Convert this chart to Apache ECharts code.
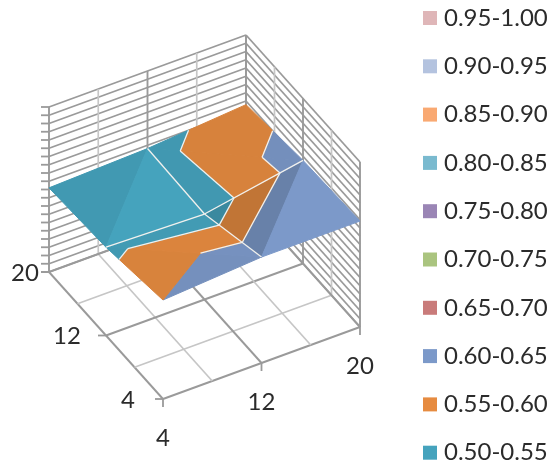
<!DOCTYPE html>
<html>
<head>
<meta charset="utf-8">
<style>html,body{margin:0;padding:0;background:#fff}#chart{width:556px;height:468px}</style>
<script src="https://cdn.jsdelivr.net/npm/echarts@6/dist/echarts.min.js"></script>
</head>
<body>
<div id="chart"></div>
<script>
// Surface samples: rows follow the depth axis, columns the width axis.
const widthTicks = [4, 12, 20];
const depthTicks = [4, 12, 20];
const surfaceRows = [
  [0.600, 0.642, 0.642],
  [0.535, 0.518, 0.625],
  [0.510, 0.530, 0.578]
];
const bandNames = ['0.95-1.00','0.90-0.95','0.85-0.90','0.80-0.85','0.75-0.80','0.70-0.75','0.65-0.70','0.60-0.65','0.55-0.60','0.50-0.55'];
const bandFloors = [0.95,0.90,0.85,0.80,0.75,0.70,0.65,0.60,0.55,0.50];
const bandColors = ['#DFB6B8','#B4C3DF','#F9A972','#7ABACF','#9A85B5','#AAC47F','#C97B7A','#7C99C9','#E68B40','#45A3BD'];
const zTicks = [0,0.05,0.1,0.15,0.2,0.25,0.3,0.35,0.4,0.45,0.5,0.55,0.6,0.65,0.7,0.75,0.8,0.85,0.9,0.95,1];
const floorTicks = [4, 8, 12, 16, 20];
const labelledTicks = [4, 12, 20];
const depthLabelShift = { 4: -35, 12: -39, 20: -24 };

// Each facet: three [column,row] mesh vertices and a lighting factor.
const facets = [
  { v: [[0,1],[0,2],[1,2]], shade: 0.94 },
  { v: [[0,1],[1,1],[1,2]], shade: 1.00 },
  { v: [[0,0],[1,0],[0,1]], shade: 0.94 },
  { v: [[0,1],[1,0],[1,1]], shade: 0.95 },
  { v: [[1,1],[2,1],[1,0]], shade: 0.84 },
  { v: [[1,0],[2,1],[2,0]], shade: 1.00 },
  { v: [[1,1],[2,1],[1,2]], shade: 0.935 },
  { v: [[1,2],[2,2],[2,1]], shade: 0.935 }
];

// Oblique view of the box: origin is the near floor corner.
const view = { ox: 163, oy: 399, wx: 197, wy: -72, dx: -114, dy: -127, zy: -165 };
const linearMap = echarts.number.linearMap;
function project(w, d, z) {
  const a = linearMap(w, [4, 20], [0, 1]);
  const b = linearMap(d, [4, 20], [0, 1]);
  return [view.ox + a * view.wx + b * view.dx, view.oy + a * view.wy + b * view.dy + z * view.zy];
}

function vertex(ref) {
  return [widthTicks[ref[0]], depthTicks[ref[1]], surfaceRows[ref[1]][ref[0]]];
}
function lerp(p, q, t) {
  return [p[0] + (q[0]-p[0])*t, p[1] + (q[1]-p[1])*t, p[2] + (q[2]-p[2])*t];
}
// Keep the part of a polygon on one side of a z level.
function clipZ(poly, level, keepAbove) {
  const out = [];
  for (let i = 0; i < poly.length; i++) {
    const p = poly[i], q = poly[(i+1) % poly.length];
    const pIn = keepAbove ? p[2] >= level : p[2] <= level;
    const qIn = keepAbove ? q[2] >= level : q[2] <= level;
    if (pIn) out.push(p);
    if (pIn !== qIn) out.push(lerp(p, q, (level - p[2]) / (q[2] - p[2])));
  }
  return out;
}
function hexShade(hex, f) {
  const n = parseInt(hex.slice(1), 16);
  const c = [n >> 16, (n >> 8) & 255, n & 255].map(v => Math.round(v * f));
  return 'rgb(' + c.join(',') + ')';
}

// Band pieces per band, and the contour segments between bands.
const bandPieces = bandFloors.map((lo, b) => {
  const pieces = [];
  facets.forEach(f => {
    let poly = f.v.map(vertex);
    poly = clipZ(poly, lo, true);
    if (poly.length) poly = clipZ(poly, lo + 0.05, false);
    if (poly.length > 2) pieces.push({ poly, shade: f.shade });
  });
  return pieces;
});
const contourSegs = [];
bandFloors.forEach(level => {
  facets.forEach(f => {
    const tri = f.v.map(vertex), pts = [];
    for (let i = 0; i < 3; i++) {
      const p = tri[i], q = tri[(i+1)%3];
      if ((p[2] - level) * (q[2] - level) < 0) pts.push(lerp(p, q, (level - p[2]) / (q[2] - p[2])));
    }
    if (pts.length === 2) contourSegs.push(pts);
  });
});
const meshSegs = [
  [vertex([1,0]), vertex([1,1])], [vertex([1,1]), vertex([1,2])],
  [vertex([0,1]), vertex([1,1])], [vertex([1,1]), vertex([2,1])]
];

// Box frame: back walls and floor.
const frameSegs = [];
const MAJOR = '#9a9a9a', MINOR = '#c6c6c6', W0 = 4, W1 = 20;
zTicks.forEach(z => {
  frameSegs.push({ a: [W0, W1, z], b: [W1, W1, z], c: MAJOR, w: 1.8 });
  frameSegs.push({ a: [W1, W0, z], b: [W1, W1, z], c: MAJOR, w: 1.8 });
});
floorTicks.forEach(t => {
  const major = labelledTicks.indexOf(t) >= 0;
  const c = major ? MAJOR : MINOR, w = major ? 1.9 : 1.7;
  frameSegs.push({ a: [t, W0, 0], b: [t, W1, 0], c, w });
  frameSegs.push({ a: [W0, t, 0], b: [W1, t, 0], c, w });
  frameSegs.push({ a: [t, W1, 0], b: [t, W1, 1], c, w });
  frameSegs.push({ a: [W1, t, 0], b: [W1, t, 1], c, w });
});

function lineItem(api, a, b, stroke, lineWidth) {
  const p = api.coord(project(a[0], a[1], a[2]));
  const q = api.coord(project(b[0], b[1], b[2]));
  return { type: 'line', shape: { x1: p[0], y1: p[1], x2: q[0], y2: q[1] }, style: { stroke, lineWidth } };
}

const frameSeries = {
  type: 'custom', coordinateSystem: 'cartesian2d', silent: true, animation: false, clip: false,
  data: frameSegs.map((s, i) => i),
  renderItem: (params, api) => {
    const s = frameSegs[params.dataIndex];
    return lineItem(api, s.a, s.b, s.c, s.w);
  }
};

// Tick marks and axis labels along the two front floor edges and the height axis.
const tickMarks = [];
zTicks.forEach(z => tickMarks.push({ at: [W0, W1, z], ox: -8, oy: 0 }));
labelledTicks.forEach(t => {
  tickMarks.push({ at: [W0, t, 0], ox: -8, oy: 0 });
  tickMarks.push({ at: [t, W0, 0], ox: 0, oy: 8 });
});
const tickSeries = {
  type: 'custom', coordinateSystem: 'cartesian2d', silent: true, animation: false, clip: false,
  data: tickMarks.map((s, i) => i),
  renderItem: (params, api) => {
    const t = tickMarks[params.dataIndex];
    const p = api.coord(project(t.at[0], t.at[1], t.at[2]));
    return { type: 'line', shape: { x1: p[0], y1: p[1], x2: p[0] + t.ox, y2: p[1] + t.oy }, style: { stroke: MAJOR, lineWidth: 1.8 } };
  }
};
const axisLabels = [];
labelledTicks.forEach(t => {
  axisLabels.push({ at: [W0, t, 0], text: String(t), ox: depthLabelShift[t], oy: 1, align: 'center' });
  axisLabels.push({ at: [t, W0, 0], text: String(t), ox: 0, oy: 39, align: 'center' });
});
const labelSeries = {
  type: 'custom', coordinateSystem: 'cartesian2d', silent: true, animation: false, clip: false,
  data: axisLabels.map((s, i) => i),
  renderItem: (params, api) => {
    const l = axisLabels[params.dataIndex];
    const p = api.coord(project(l.at[0], l.at[1], l.at[2]));
    return { type: 'text', x: p[0] + l.ox, y: p[1] + l.oy, style: {
      text: l.text, fontFamily: 'Lato', fontSize: 24, fill: '#2b2b2b', align: l.align, verticalAlign: 'middle'
    } };
  }
};

const bandSeries = bandNames.map((name, b) => ({
  type: 'custom', name, coordinateSystem: 'cartesian2d', silent: true, animation: false, clip: false,
  itemStyle: { color: bandColors[b] },
  data: bandPieces[b].map((s, i) => i),
  renderItem: (params, api) => {
    const piece = bandPieces[b][params.dataIndex];
    const color = hexShade(bandColors[b], piece.shade);
    return {
      type: 'polygon',
      shape: { points: piece.poly.map(v => api.coord(project(v[0], v[1], v[2]))) },
      style: { fill: color, stroke: color, lineWidth: 1, lineJoin: 'round' }
    };
  }
}));

const seamSegs = contourSegs.concat(meshSegs);
const seamSeries = {
  type: 'custom', coordinateSystem: 'cartesian2d', silent: true, animation: false, clip: false,
  data: seamSegs.map((s, i) => i),
  renderItem: (params, api) => {
    const s = seamSegs[params.dataIndex];
    return lineItem(api, s[0], s[1], '#f1f1ee', 1.3);
  }
};

const chart = echarts.init(document.getElementById('chart'), null, { renderer: 'canvas' });
chart.setOption({
  animation: false,
  backgroundColor: '#fff',
  grid: { left: 0, right: 0, top: 0, bottom: 0 },
  xAxis: { type: 'value', min: 0, max: 556, show: false },
  yAxis: { type: 'value', min: 0, max: 468, inverse: true, show: false },
  legend: {
    orient: 'vertical', left: 423, top: 6, height: 462, padding: 0, icon: 'rect', itemWidth: 14, itemHeight: 14, itemGap: 24.3,
    data: bandNames, selectedMode: false,
    textStyle: { fontFamily: 'Lato', fontSize: 24, color: '#2b2b2b', lineHeight: 23, padding: [0, 0, 0, 2] }
  },
  series: [frameSeries, tickSeries].concat(bandSeries, [seamSeries, labelSeries])
});
</script>
</body>
</html>
